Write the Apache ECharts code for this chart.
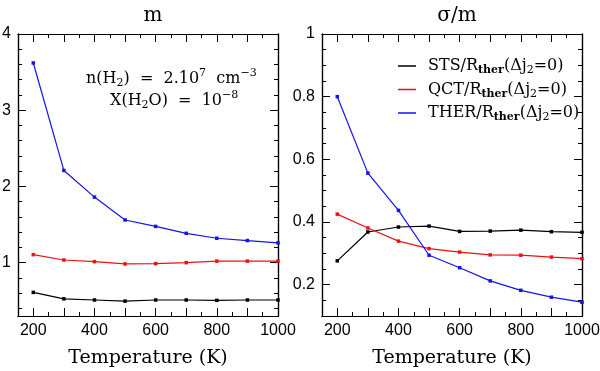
<!DOCTYPE html>
<html>
<head>
<meta charset="utf-8">
<script src="https://cdn.jsdelivr.net/npm/echarts@6/dist/echarts.min.js"></script>
<style>html,body{margin:0;padding:0;background:#fff}#c{width:600px;height:371px}</style>
</head>
<body>
<div id="c"></div>
<script>
// ---- data ----
const temps = [200, 300, 400, 500, 600, 700, 800, 900, 1000];
// left panel: m
const mSTS  = [0.61, 0.525, 0.51, 0.495, 0.51, 0.51, 0.505, 0.51, 0.51];
const mQCT  = [1.105, 1.035, 1.013, 0.983, 0.987, 1.0, 1.02, 1.02, 1.02];
const mTHER = [3.62, 2.21, 1.86, 1.56, 1.476, 1.385, 1.32, 1.29, 1.26];
// right panel: sigma/m
const sSTS  = [0.276, 0.368, 0.384, 0.387, 0.37, 0.371, 0.374, 0.369, 0.367];
const sQCT  = [0.425, 0.381, 0.339, 0.315, 0.304, 0.295, 0.294, 0.288, 0.283];
const sTHER = [0.80, 0.556, 0.437, 0.294, 0.254, 0.212, 0.182, 0.16, 0.144];
// tick labels
const xLabels = [200, 400, 600, 800, 1000];
const mLabels = [1, 2, 3, 4];
const sLabels = [0.2, 0.4, 0.6, 0.8, 1];

const seriesNames = ['STS', 'QCT', 'THER'];
const colors = ['#000000', '#ee1111', '#1414e6'];

function range(a, b, step) {
  const out = [];
  for (let i = 0; a + i * step <= b + 1e-9; i++) out.push(+(a + i * step).toFixed(4));
  return out;
}

const X = { min: 150, max: 1000, major: range(200, 1000, 100), minor: range(150, 1000, 50) };
const YM = { min: 0.3, max: 4, major: mLabels, minor: range(0.4, 4, 0.2) };
const YS = { min: 0.1, max: 1, major: sLabels, minor: range(0.1, 1, 0.05) };

const tickFont = { fontFamily: 'Liberation Sans', fontSize: 16, color: '#000' };

function axis(grid, pos, spec, ticks, len, labels, fmt, name) {
  const a = {
    type: 'value', gridIndex: grid, position: pos, min: spec.min, max: spec.max,
    axisLine: { show: true, onZero: false, lineStyle: { color: '#000', width: 1.2 } },
    axisTick: { show: true, inside: true, length: len, customValues: ticks, lineStyle: { color: '#000', width: 1 } },
    axisLabel: labels ? Object.assign({ show: true, customValues: labels, margin: 7, formatter: fmt }, tickFont) : { show: false },
    splitLine: { show: false }, minorTick: { show: false }
  };
  if (name) {
    a.name = name; a.nameLocation = 'middle'; a.nameGap = 33;
    a.nameTextStyle = { fontFamily: 'DejaVu Serif', fontSize: 19, color: '#000' };
  }
  return a;
}

const xAxes = [], yAxes = [];
[0, 1].forEach(g => {
  const Y = g === 0 ? YM : YS;
  const yfmt = g === 0 ? (v => String(v)) : (v => v === 1 ? '1' : v.toFixed(1));
  xAxes.push(axis(g, 'bottom', X, X.major, 8, xLabels, v => String(v), 'Temperature (K)'));
  xAxes.push(axis(g, 'bottom', X, X.minor, 4));
  xAxes.push(axis(g, 'top', X, X.major, 8));
  xAxes.push(axis(g, 'top', X, X.minor, 4));
  yAxes.push(axis(g, 'left', Y, Y.major, 8, Y.major, yfmt));
  yAxes.push(axis(g, 'left', Y, Y.minor, 4));
  yAxes.push(axis(g, 'right', Y, Y.major, 8));
  yAxes.push(axis(g, 'right', Y, Y.minor, 4));
});

const panels = [[mSTS, mQCT, mTHER], [sSTS, sQCT, sTHER]];
const series = [];
panels.forEach((arrs, g) => {
  arrs.forEach((vals, i) => {
    series.push({
      name: seriesNames[i], type: 'line', xAxisIndex: g * 4, yAxisIndex: g * 4,
      data: temps.map((t, k) => [t, vals[k]]),
      symbol: 'rect', symbolSize: 3.5, showSymbol: true,
      lineStyle: { color: colors[i], width: 1.2 }, itemStyle: { color: colors[i] },
      z: 3 + i, animation: false
    });
  });
});

const serif = 'DejaVu Serif';
const richBase = {
  n: { fontFamily: serif, fontSize: 16, color: '#000' },
  sp: { width: 7 },
  sub: { fontFamily: serif, fontSize: 11, fontWeight: 'bold', color: '#000', padding: [9, 0, 0, 0] },
  sub2: { fontFamily: serif, fontSize: 11, color: '#000', padding: [9, 0, 0, 0] },
  sup: { fontFamily: serif, fontSize: 11, color: '#000', padding: [0, 0, 11, 0] }
};

const legendTexts = {
  STS: '{sp|}{n|STS/R}{sub|ther}{n|(Δj}{sub2|2}{n|=0)}',
  QCT: '{sp|}{n|QCT/R}{sub|ther}{n|(Δj}{sub2|2}{n|=0)}',
  THER: '{sp|}{n|THER/R}{sub|ther}{n|(Δj}{sub2|2}{n|=0)}'
};

const option = {
  backgroundColor: '#fff',
  animation: false,
  grid: [
    { left: 18, right: 322, top: 34, bottom: 55, containLabel: false, outerBoundsMode: 'none' },
    { left: 322, right: 18, top: 34, bottom: 55, containLabel: false, outerBoundsMode: 'none' }
  ],
  title: [
    { text: 'm', left: 148, top: 1, textAlign: 'center', textStyle: { fontFamily: serif, fontSize: 20, fontWeight: 'normal', color: '#000' } },
    { text: 'σ/m', left: 452, top: 1, textAlign: 'center', textStyle: { fontFamily: serif, fontSize: 20, fontWeight: 'normal', color: '#000' } }
  ],
  legend: {
    data: seriesNames, left: 393, top: 53, orient: 'vertical', icon: 'rect',
    itemWidth: 18, itemHeight: 1.5, itemGap: 5.5, selectedMode: false,
    formatter: n => legendTexts[n],
    textStyle: { rich: richBase }
  },
  xAxis: xAxes,
  yAxis: yAxes,
  series: series,
  graphic: [
    { type: 'text', left: 86, top: 68, style: { text: '{n|n(H}{sub2|2}{n|)  =  2.10}{sup|7}{n|  cm}{sup|−3}', rich: richBase } },
    { type: 'text', left: 110, top: 90, style: { text: '{n|X(H}{sub2|2}{n|O)  =  10}{sup|−8}', rich: richBase } }
  ]
};

const chart = echarts.init(document.getElementById('c'), null, { renderer: 'canvas' });
chart.setOption(option);
</script>
</body>
</html>
